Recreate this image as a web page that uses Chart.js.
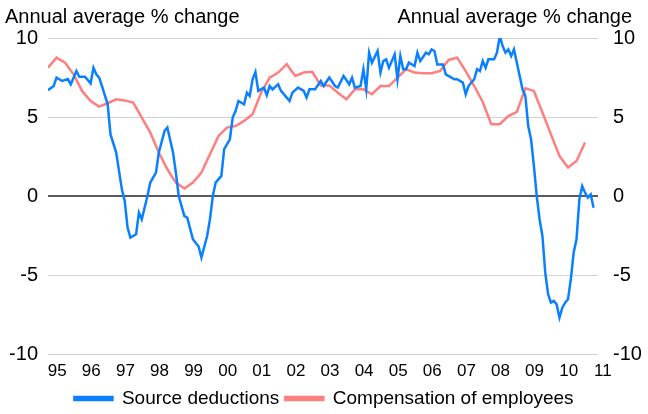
<!DOCTYPE html>
<html><head><meta charset="utf-8">
<script src="https://cdn.jsdelivr.net/npm/chart.js@4/dist/chart.umd.min.js"></script>
<style>html,body{margin:0;padding:0;background:#fff}#wrap{position:relative;width:648px;height:414px}</style>
</head><body><div id="wrap"><canvas id="c" width="648" height="414"></canvas></div>
<script>
const FONT = "'Liberation Sans',Arial,sans-serif";
const axisTitle = 'Annual average % change';
const yearLabels = ['95','96','97','98','99','00','01','02','03','04','05','06','07','08','09','10','11'];
const yTicks = [-10,-5,0,5,10];

// Source deductions, monthly (annual average % change)
const sdMonths = ['1995-01','1995-03','1995-04','1995-06','1995-08','1995-09','1995-10','1995-11','1995-12',
'1996-02','1996-04','1996-05','1996-06','1996-07','1996-08','1996-10','1996-11',
'1997-01','1997-03','1997-04','1997-05','1997-06','1997-08','1997-09','1997-10','1997-12',
'1998-01','1998-03','1998-04','1998-06','1998-07','1998-09','1998-10','1998-11',
'1999-01','1999-02','1999-04','1999-06','1999-07','1999-09','1999-10','1999-11','1999-12',
'2000-02','2000-03','2000-05','2000-06','2000-07','2000-08','2000-10','2000-11','2000-12',
'2001-01','2001-02','2001-03','2001-05','2001-06','2001-07','2001-08','2001-10','2001-11',
'2002-01','2002-02','2002-03','2002-05','2002-07','2002-08','2002-09','2002-11',
'2003-01','2003-02','2003-04','2003-06','2003-07','2003-09','2003-11','2003-12',
'2004-01','2004-03','2004-04','2004-05','2004-06','2004-07','2004-09','2004-10','2004-11','2004-12',
'2005-01','2005-03','2005-04','2005-05','2005-06','2005-07','2005-08','2005-10','2005-11','2005-12',
'2006-02','2006-03','2006-04','2006-05','2006-06','2006-08','2006-09','2006-12',
'2007-01','2007-03','2007-04','2007-05','2007-07','2007-08','2007-09','2007-10','2007-11','2007-12',
'2008-02','2008-03','2008-04','2008-05','2008-06','2008-07','2008-08','2008-09','2008-10','2008-12',
'2009-01','2009-02','2009-03','2009-04','2009-05','2009-06','2009-07','2009-08','2009-09','2009-10','2009-11','2009-12',
'2010-01','2010-02','2010-03','2010-04','2010-05','2010-06','2010-07','2010-08','2010-09','2010-10','2010-11','2010-12',
'2011-01'];
const sdValues = [6.7,6.96,7.49,7.28,7.4,7.07,7.49,7.91,7.55,
7.55,7.13,8.12,7.7,7.49,6.96,5.8,3.9,
2.75,0.42,-0.32,-2.0,-2.63,-2.42,-1.05,-1.47,0,
0.85,1.48,2.75,4.11,4.33,2.75,1.48,0,
-1.27,-1.37,-2.74,-3.2,-3.9,-2.53,-1.47,0,0.85,
1.27,2.96,3.59,4.96,5.38,6.01,5.8,6.54,6.33,
7.39,7.85,6.65,6.86,6.38,6.96,6.75,7.07,6.65,
6.23,6.01,6.54,6.86,6.65,6.23,6.75,6.75,
7.28,6.96,7.5,6.96,6.86,7.6,7.07,7.49,
6.86,6.96,8.02,6.75,9.07,8.44,9.18,7.81,8.54,8.65,
8.12,8.97,7.39,8.86,8.02,8.02,8.44,8.23,9.07,8.54,
9.07,8.97,9.28,9.18,8.33,8.33,7.7,7.39,
7.39,7.18,6.44,6.96,7.39,8.02,7.91,8.54,8.12,8.65,
8.65,9.07,10.13,9.49,9.07,9.28,8.86,9.28,8.44,6.75,
6.33,4.43,3.59,1.9,0,-1.47,-2.53,-4.85,-6.22,-6.75,-6.64,-6.86,
-7.7,-7.07,-6.75,-6.54,-5.27,-3.58,-2.74,-0.21,0.63,0.21,-0.1,0.1,
-0.74];

// Compensation of employees, quarterly from 1995 Q1
const cpeStartYear = 1995;
const cpeValues = [8.12,8.76,8.44,7.7, 6.65,6.01,5.66,5.87, 6.12,6.05,5.91,4.96, 4.01,2.75,1.69,0.85,
0.47,0.85,1.48,2.64, 3.8,4.33,4.43,4.75, 5.17,6.54,7.49,7.81, 8.34,7.6,7.81,7.86,
7.0,7.0,6.54,6.12, 6.75,6.75,6.44,6.96, 6.96,7.49,8.02,7.81, 7.77,7.77,7.91,8.61,
8.76,7.91,6.96,5.95, 4.54,4.54,5.06,5.32, 6.82,6.65,5.28,3.9, 2.53,1.8,2.22,3.38];

function monthToYear(s){ const p = s.split('-').map(Number); return p[0] + (p[1]-1)/12; }
const sdData = sdMonths.map((d,i)=>({x: monthToYear(d), y: sdValues[i]}));
const cpeData = cpeValues.map((v,i)=>({x: cpeStartYear + i/4, y: v}));

const titlesPlugin = {
  id: 'titles',
  afterDraw(chart){
    const ctx = chart.ctx;
    ctx.save();
    ctx.fillStyle = '#000';
    ctx.font = '20px ' + FONT;
    ctx.textBaseline = 'middle';
    ctx.textAlign = 'left';
    ctx.fillText(axisTitle, 5, 17);
    ctx.textAlign = 'right';
    ctx.fillText(axisTitle, 632, 17);
    ctx.restore();
  }
};

new Chart(document.getElementById('c'), {
  type: 'line',
  data: { datasets: [
    { label: 'Source deductions', data: sdData, borderColor: '#0a80ff', backgroundColor: '#0a80ff',
      borderWidth: 2.5, pointRadius: 0, tension: 0, yAxisID: 'y' },
    { label: 'Compensation of employees', data: cpeData, borderColor: '#ff7f7f', backgroundColor: '#ff7f7f',
      borderWidth: 2.5, pointRadius: 0, tension: 0, yAxisID: 'y' }
  ]},
  options: {
    responsive: false, animation: false, devicePixelRatio: 1,
    layout: { padding: { top: 38, left: 0, right: 0, bottom: -4 } },
    plugins: {
      tooltip: { enabled: false },
      legend: { position: 'bottom', labels: { color: '#000', font: { family: FONT, size: 19 },
        boxWidth: 38, boxHeight: 3, padding: 6 } }
    },
    scales: {
      x: { type: 'linear', min: 1995, max: 2011.13,
        grid: { display: false }, border: { display: false },
        afterBuildTicks: s => { s.ticks = yearLabels.map((l,i)=>({ value: 1995.27 + i })); },
        afterFit: s => { s.height = 29; },
        ticks: { color: '#000', font: { family: FONT, size: 17 }, padding: -1, maxRotation: 0, autoSkip: false,
          callback: (v, i) => yearLabels[i] } },
      y: { position: 'left', min: -10, max: 10,
        afterBuildTicks: s => { s.ticks = yTicks.map(v=>({value:v})); },
        afterFit: s => { s.width = 48; },
        grid: { drawTicks: false, color: c => c.tick && c.tick.value === 0 ? '#595959' : '#d3d3d3',
          lineWidth: c => c.tick && c.tick.value === 0 ? 2 : 1 },
        border: { display: false },
        ticks: { color: '#000', font: { family: FONT, size: 20 }, padding: 10 } },
      y2: { position: 'right', min: -10, max: 10,
        afterBuildTicks: s => { s.ticks = yTicks.map(v=>({value:v})); },
        afterFit: s => { s.width = 50; },
        grid: { display: false }, border: { display: false },
        ticks: { color: '#000', font: { family: FONT, size: 20 }, padding: 7 } }
    }
  },
  plugins: [titlesPlugin]
});
</script></body></html>
